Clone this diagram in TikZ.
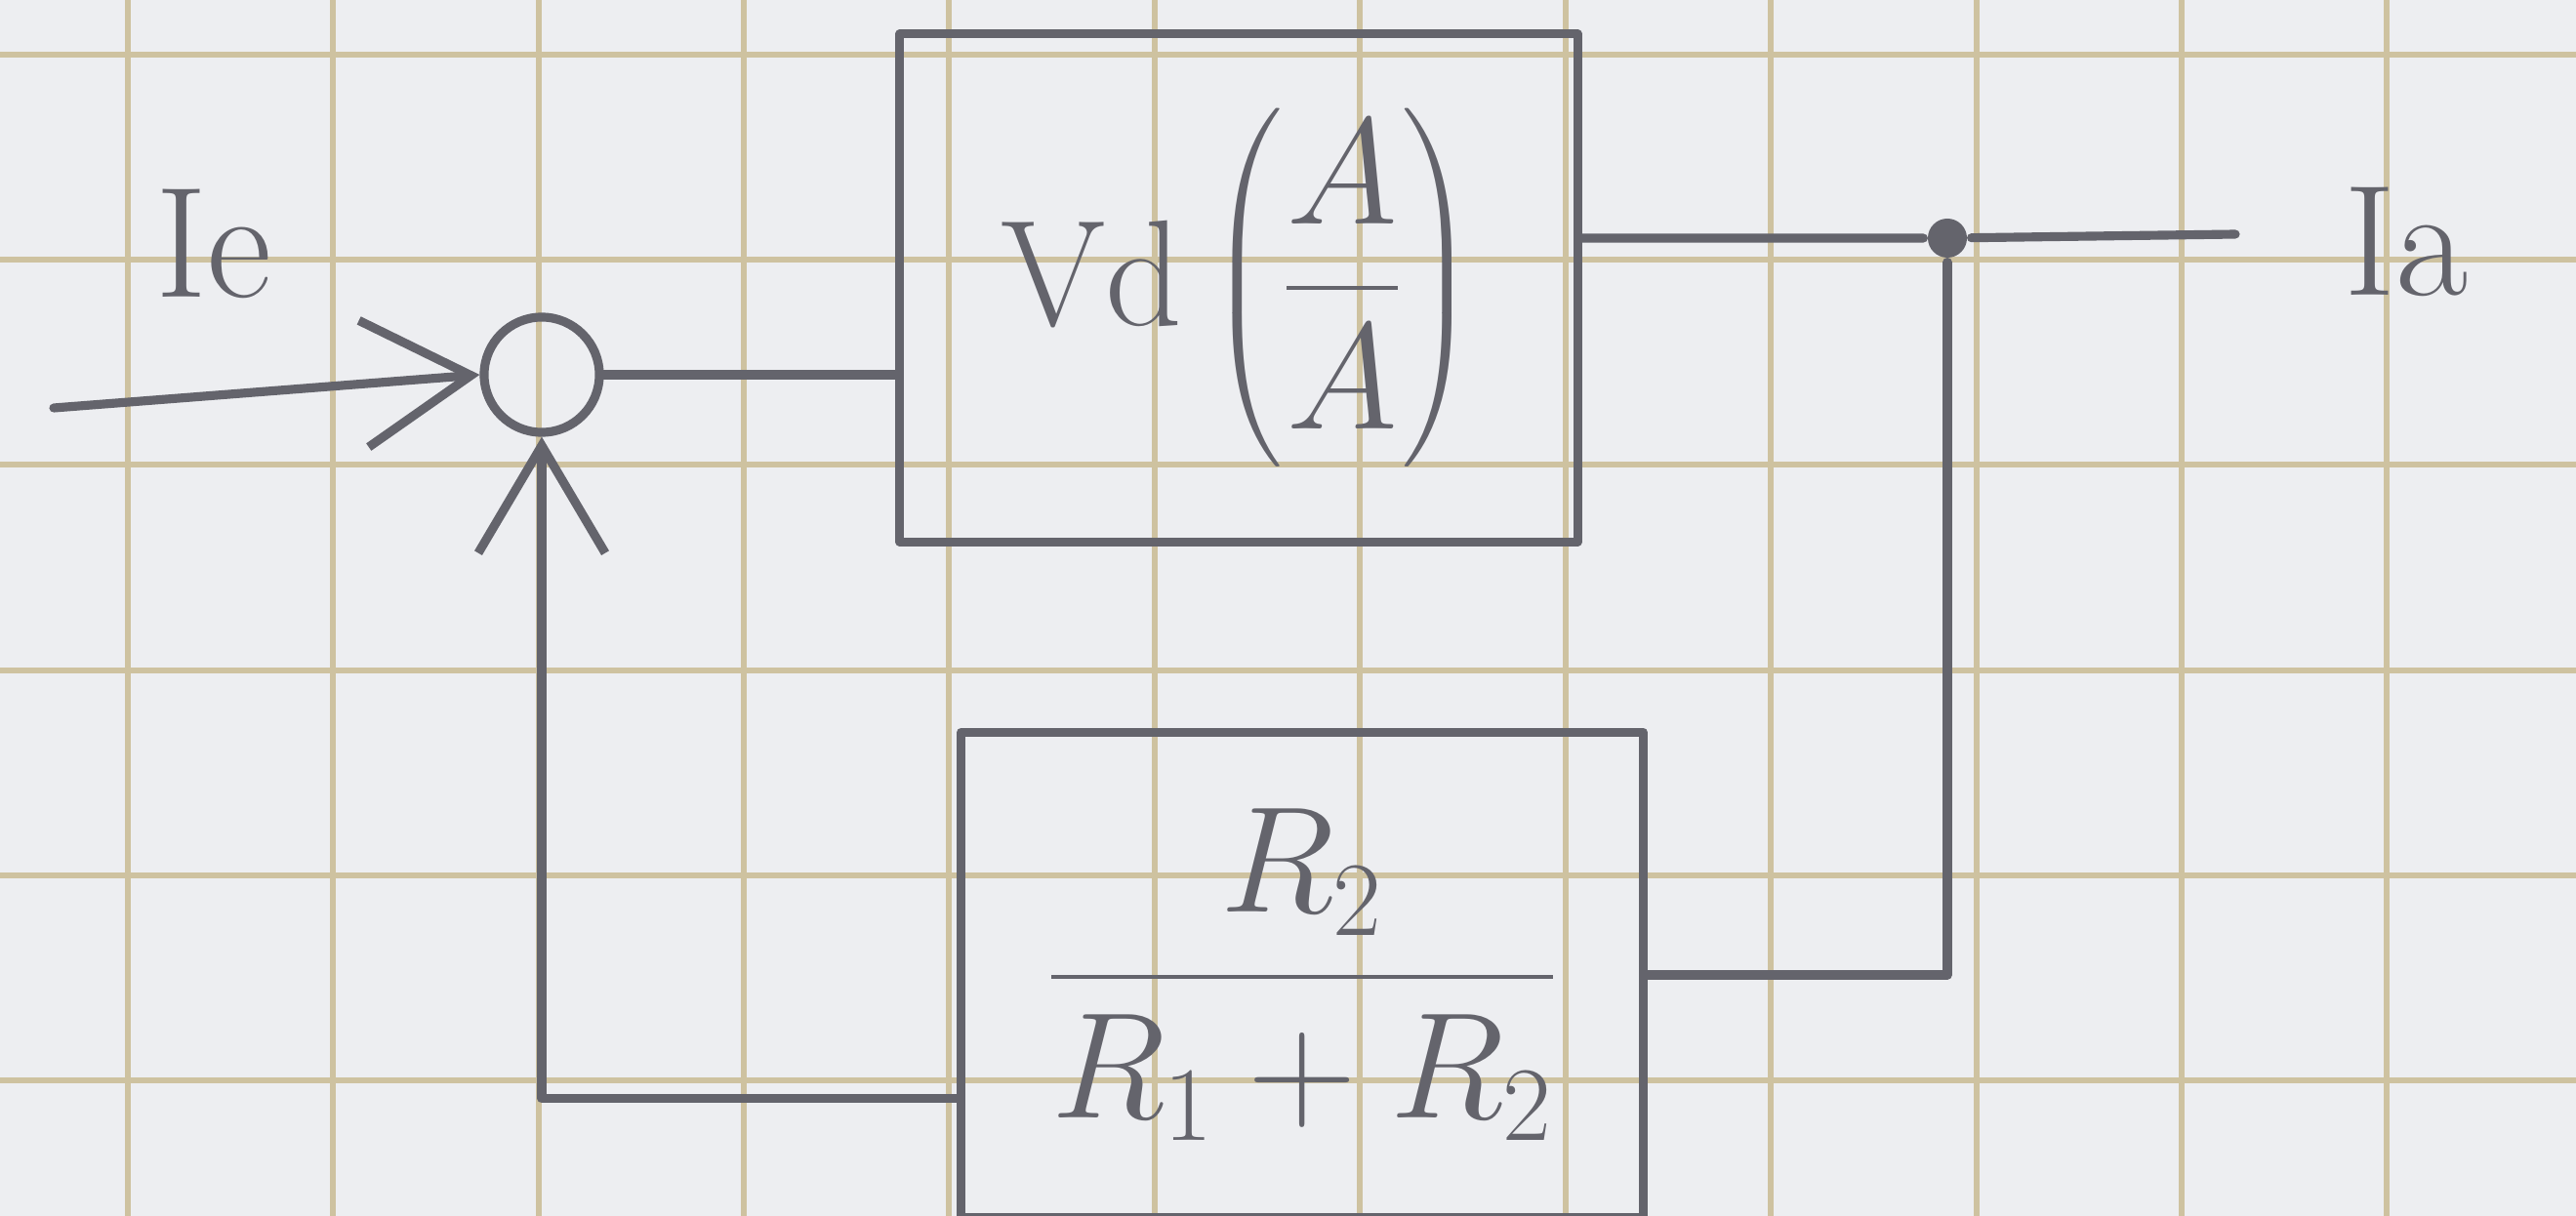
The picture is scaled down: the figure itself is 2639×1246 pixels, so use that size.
\RequirePackage{fix-cm}
\documentclass[tikz,border=0pt]{standalone}
\usepackage{amsmath}
\usepackage{tikz}
\usetikzlibrary{arrows.meta,positioning,calc}
\definecolor{paper}{RGB}{237,238,241}
\definecolor{squares}{RGB}{206,194,160}
\definecolor{pencil}{RGB}{100,100,108}

\begin{document}
\begin{tikzpicture}[x=0.01cm, y=-0.01cm, >={Straight Barb[length=11mm,width=13mm]}, color=pencil, line width=2.6pt, line cap=round, line join=round]
\tikzstyle{block}=[draw=pencil,line width=2.6pt,inner sep=0pt,font=\fontsize{44}{52}\selectfont]
\tikzstyle{sig}=[text=pencil,font=\fontsize{46}{52}\selectfont]
\useasboundingbox (0,0) rectangle (2639,1246);
\fill[paper] (0,0) rectangle (2639,1246);
% squared paper
\foreach \gx in {131,341,552,762,972,1183,1393,1604,1814,2025,2235,2445}
  \draw[squares,line width=1.6pt] (\gx,0) -- (\gx,1246);
\foreach \gy in {56,266,476,687,897,1107}
  \draw[squares,line width=1.6pt] (0,\gy) -- (2639,\gy);
% blocks
\node[circle,draw=pencil,minimum size=1.18cm,inner sep=0pt] (S) at (555,384) {};
\node[block,minimum width=6.94cm,minimum height=5.2cm] (V) at (1269,295) {$\mathrm{Vd}\left(\dfrac{A}{A}\right)$};
\node[block,minimum width=6.98cm,minimum height=4.97cm,below=1.86cm of V,xshift=0.65cm] (R) {$\dfrac{R_2}{R_1+R_2}$};
\node[circle,fill=pencil,inner sep=0pt,minimum size=0.4cm] (J) at (1995,244) {};
\coordinate (E) at (55,418);
\coordinate (A) at (2290,240);
\coordinate (Rin) at ($(R.south west)!0.25!(R.north west)$);
% labels
\node[sig] (Ie) at (219,250) {Ie};
\node[sig] (Ia) at (2465,248) {Ia};
% signals
\draw[->] (E) -- (S.west);
\draw (S.east) -- (S.east -| V.west);
\draw (J -| V.east) -- (J) -- (A);
\draw (J) |- (R.east);
\draw[->] (Rin) -| (S.south);
\end{tikzpicture}
\end{document}
